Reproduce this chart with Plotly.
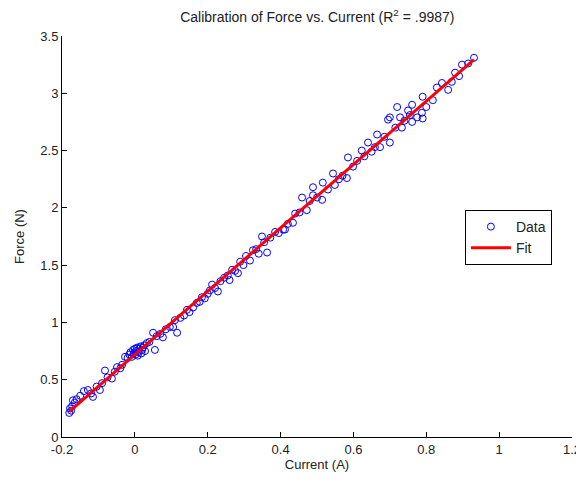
import numpy as np
import plotly.graph_objects as go

# measured current (A)
current = [
    -0.180, -0.178, -0.175, -0.172, -0.170, -0.165, -0.160, -0.150, -0.140, -0.129,
    -0.120, -0.115, -0.105, -0.096, -0.090, -0.082, -0.075, -0.063, -0.055, -0.049,
    -0.040, -0.035, -0.027, -0.020, -0.015, -0.012, -0.008, -0.005, -0.003, 0.000,
    0.002, 0.004, 0.006, 0.008, 0.010, 0.012, 0.015, 0.018, 0.020, 0.022,
    0.025, 0.028, 0.033, 0.040, 0.050, 0.055, 0.060, 0.070, 0.077, 0.085,
    0.096, 0.105, 0.110, 0.116, 0.125, 0.135, 0.143, 0.150, 0.160, 0.170,
    0.178, 0.184, 0.192, 0.200, 0.206, 0.212, 0.220, 0.228, 0.235, 0.245,
    0.255, 0.260, 0.267, 0.275, 0.283, 0.289, 0.298, 0.305, 0.316, 0.324,
    0.333, 0.340, 0.349, 0.355, 0.363, 0.372, 0.385, 0.395, 0.407, 0.412,
    0.420, 0.434, 0.440, 0.452, 0.459, 0.472, 0.480, 0.489, 0.489, 0.500,
    0.514, 0.516, 0.530, 0.544, 0.549, 0.560, 0.570, 0.582, 0.585, 0.599,
    0.610, 0.623, 0.630, 0.640, 0.650, 0.659, 0.665, 0.673, 0.685, 0.695,
    0.700, 0.700, 0.715, 0.720, 0.728, 0.733, 0.740, 0.750, 0.755, 0.761,
    0.761, 0.775, 0.788, 0.790, 0.790, 0.800, 0.818, 0.829, 0.843, 0.860,
    0.870, 0.879, 0.890, 0.898, 0.915, 0.931,
]

# measured force (N)
force = [
    0.21, 0.25, 0.23, 0.27, 0.32, 0.30, 0.33, 0.36, 0.40, 0.41,
    0.38, 0.35, 0.44, 0.41, 0.47, 0.58, 0.52, 0.51, 0.57, 0.61,
    0.60, 0.63, 0.70, 0.69, 0.72, 0.74, 0.70, 0.76, 0.73, 0.77,
    0.72, 0.75, 0.78, 0.71, 0.74, 0.77, 0.79, 0.73, 0.76, 0.78,
    0.80, 0.75, 0.82, 0.83, 0.91, 0.76, 0.88, 0.90, 0.87, 0.94,
    0.96, 0.96, 1.02, 0.91, 1.04, 1.06, 1.11, 1.09, 1.13, 1.17,
    1.18, 1.22, 1.21, 1.25, 1.28, 1.33, 1.30, 1.27, 1.36, 1.39,
    1.41, 1.37, 1.46, 1.45, 1.43, 1.53, 1.50, 1.58, 1.54, 1.63,
    1.64, 1.60, 1.75, 1.70, 1.61, 1.74, 1.79, 1.78, 1.81, 1.81,
    1.86, 1.87, 1.95, 1.96, 2.09, 1.98, 2.06, 2.18, 2.11, 2.09,
    2.07, 2.22, 2.16, 2.30, 2.20, 2.25, 2.28, 2.26, 2.44, 2.36,
    2.41, 2.50, 2.45, 2.57, 2.49, 2.53, 2.64, 2.53, 2.62, 2.77,
    2.79, 2.57, 2.70, 2.88, 2.79, 2.70, 2.76, 2.85, 2.81, 2.90,
    2.75, 2.79, 2.83, 2.97, 2.78, 2.88, 2.94, 3.05, 3.09, 3.03,
    3.10, 3.18, 3.15, 3.25, 3.26, 3.31,
]

x_ticks = [-0.2, 0, 0.2, 0.4, 0.6, 0.8, 1, 1.2]
x_tick_labels = ["-0.2", "0", "0.2", "0.4", "0.6", "0.8", "1", "1.2"]
y_ticks = [0, 0.5, 1, 1.5, 2, 2.5, 3, 3.5]
y_tick_labels = ["0", "0.5", "1", "1.5", "2", "2.5", "3", "3.5"]

# least-squares fit through the data
slope, intercept = np.polyfit(current, force, 1)
fit_x = np.array([min(current), max(current)])
fit_y = slope * fit_x + intercept

fig = go.Figure()

fig.add_trace(go.Scatter(
    x=current, y=force, mode="markers", name="Data",
    marker=dict(symbol="circle-open", size=7, color="#0000ff", line=dict(width=1, color="#0000ff")),
))

fig.add_trace(go.Scatter(
    x=fit_x, y=fit_y, mode="lines", name="Fit",
    line=dict(color="#ff0000", width=3),
))

axis_style = dict(
    showgrid=False, zeroline=False, showline=True, linecolor="black", linewidth=1,
    ticks="inside", ticklen=5, tickcolor="black", automargin=False,
    tickfont=dict(family="Liberation Sans, Arial", size=13, color="#222222"),
)

fig.update_xaxes(range=[-0.2, 1.2], tickvals=x_ticks, ticktext=x_tick_labels,
                 title=dict(text="Current (A)", font=dict(size=13, color="#222222"), standoff=4),
                 **axis_style)
fig.update_yaxes(range=[0, 3.5], tickvals=y_ticks, ticktext=y_tick_labels,
                 title=dict(text="Force (N)", font=dict(size=13, color="#222222"), standoff=12),
                 **axis_style)

# the page body adds an 8px offset, so the figure is a bit smaller than the window
fig.update_layout(
    width=576, height=477,
    margin=dict(l=54, r=12, t=28, b=48),
    plot_bgcolor="white", paper_bgcolor="white",
    font=dict(family="Liberation Sans, Arial", size=13, color="#222222"),
    title=dict(text="Calibration of Force vs. Current (R<sup>2</sup> = .9987)",
               x=0.537, xanchor="center", y=0.992, yanchor="top",
               font=dict(size=14, color="#222222")),
    legend=dict(x=0.79, xanchor="left", y=0.566, yanchor="top",
                bordercolor="black", borderwidth=1, bgcolor="white",
                itemwidth=40, entrywidth=60,
                font=dict(size=14, color="#222222")),
)

fig.write_html("out.html")
